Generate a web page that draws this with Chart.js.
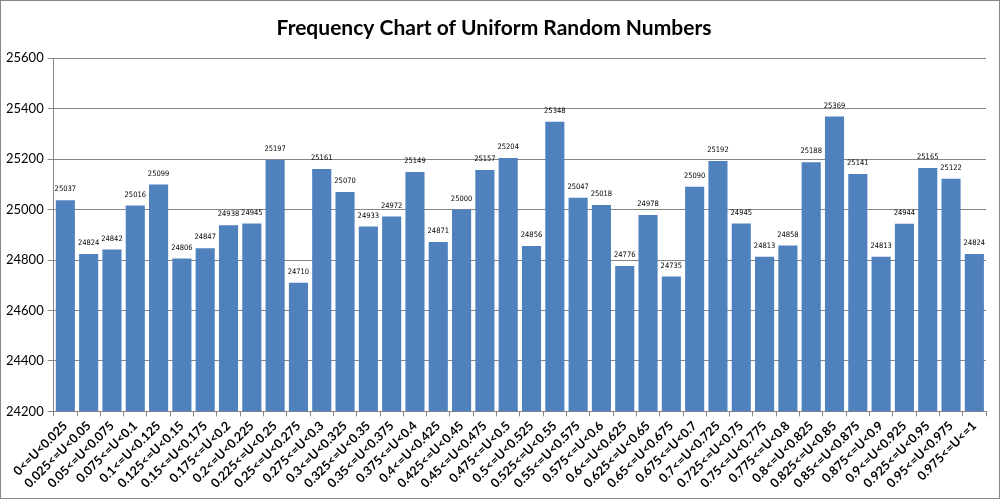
<!DOCTYPE html>
<html>
<head>
<meta charset="utf-8">
<script src="https://cdn.jsdelivr.net/npm/chart.js@4/dist/chart.umd.min.js"></script>
<style>
  html, body { margin: 0; padding: 0; background: #fff; }
  #wrap { width: 1000px; height: 499px; position: relative; }
</style>
</head>
<body>
<div id="wrap"><canvas id="myChart" width="1000" height="499"></canvas></div>
<script>
// bins of U
var bins = ["0<=U<0.025", "0.025<=U<0.05", "0.05<=U<0.075", "0.075<=U<0.1", "0.1<=U<0.125",
  "0.125<=U<0.15", "0.15<=U<0.175", "0.175<=U<0.2", "0.2<=U<0.225", "0.225<=U<0.25",
  "0.25<=U<0.275", "0.275<=U<0.3", "0.3<=U<0.325", "0.325<=U<0.35", "0.35<=U<0.375",
  "0.375<=U<0.4", "0.4<=U<0.425", "0.425<=U<0.45", "0.45<=U<0.475", "0.475<=U<0.5",
  "0.5<=U<0.525", "0.525<=U<0.55", "0.55<=U<0.575", "0.575<=U<0.6", "0.6<=U<0.625",
  "0.625<=U<0.65", "0.65<=U<0.675", "0.675<=U<0.7", "0.7<=U<0.725", "0.725<=U<0.75",
  "0.75<=U<0.775", "0.775<=U<0.8", "0.8<=U<0.825", "0.825<=U<0.85", "0.85<=U<0.875",
  "0.875<=U<0.9", "0.9<=U<0.925", "0.925<=U<0.95", "0.95<=U<0.975", "0.975<=U<=1"];

// counts
var counts = [25037, 24824, 24842, 25016, 25099, 24806, 24847, 24938, 24945, 25197,
  24710, 25161, 25070, 24933, 24972, 25149, 24871, 25000, 25157, 25204,
  24856, 25348, 25047, 25018, 24776, 24978, 24735, 25090, 25192, 24945,
  24813, 24858, 25188, 25369, 25141, 24813, 24944, 25165, 25122, 24824];

var yTicks = [24200, 24400, 24600, 24800, 25000, 25200, 25400, 25600];

// labels on top of bars
var barLabels = {
  id: "barLabels",
  afterDatasetsDraw: function (chart) {
    var ctx = chart.ctx;
    var meta = chart.getDatasetMeta(0);
    ctx.save();
    ctx.font = "7.5px 'DejaVu Sans Condensed', 'DejaVu Sans'";
    ctx.fillStyle = "#000";
    ctx.textAlign = "center";
    ctx.textBaseline = "bottom";
    meta.data.forEach(function (bar, i) {
      ctx.fillText(counts[i], bar.x, bar.y - 7);
    });
    ctx.restore();
  }
};

// frame round the whole chart
var frame = {
  id: "frame",
  afterDraw: function (chart) {
    var ctx = chart.ctx;
    ctx.save();
    ctx.strokeStyle = "#888";
    ctx.lineWidth = 1;
    ctx.strokeRect(0.5, 0.5, chart.width - 1, chart.height - 1);
    ctx.restore();
  }
};

var mychart = document.getElementById("myChart").getContext("2d");
var barChart = new Chart(mychart, {
  type: "bar",
  data: {
    labels: bins,
    datasets: [
      {
        label: "Frequency",
        data: counts,
        backgroundColor: "#4F81BD",
        borderWidth: 0,
        barPercentage: 0.82,
        categoryPercentage: 1.0,
      },
    ],
  },
  options: {
    responsive: false,
    animation: false,
    layout: { padding: { left: 2, right: 14, top: 4, bottom: 6 } },
    plugins: {
      legend: { display: false },
      tooltip: { enabled: false },
      title: {
        display: true,
        text: "Frequency Chart of Uniform Random Numbers",
        font: { family: "Lato", size: 21, weight: "bold" },
        color: "#000",
        padding: { top: 12, bottom: 17 },
      },
    },
    scales: {
      x: {
        grid: { drawOnChartArea: false, tickLength: 5, color: "#868686", offset: true },
        border: { color: "#868686" },
        ticks: {
          autoSkip: false,
          minRotation: 45,
          maxRotation: 45,
          color: "#000",
          padding: 2,
          font: { family: "Lato", size: 12.5, weight: "bold" },
        },
      },
      y: {
        min: 24200,
        max: 25600,
        afterBuildTicks: function (axis) {
          axis.ticks = yTicks.map(function (v) { return { value: v }; });
        },
        grid: { color: "#868686", tickLength: 6 },
        border: { color: "#868686" },
        ticks: {
          color: "#000",
          padding: 4,
          font: { family: "Lato", size: 13 },
          callback: function (v) { return String(v); },
        },
      },
    },
  },
  plugins: [barLabels, frame],
});
</script>
</body>
</html>
